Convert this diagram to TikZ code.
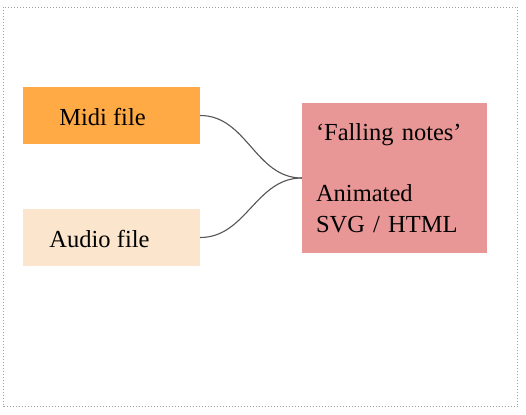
\documentclass[tikz,border=0pt]{standalone}
\usepackage{fontspec}
\setmainfont{Liberation Serif}
\usepackage{xcolor}
\usepackage{tikz}
\usetikzlibrary{positioning}
\definecolor{MidiOrange}{HTML}{FFAA44}
\definecolor{AudioPeach}{HTML}{FBE5CC}
\definecolor{OutPink}{HTML}{E89696}
\definecolor{LinkGray}{HTML}{555555}

\begin{document}
\begin{tikzpicture}[x=1pt, y=-1pt,
    every node/.style={font=\fontsize{24.5}{30.5}\selectfont, text=black},
    srcbox/.style={minimum width=177pt, minimum height=57pt, inner sep=0pt},
    lbl/.style={anchor=base, inner sep=0pt},
    link/.style={draw=LinkGray, line width=1.1pt, out=0, in=180}]
  \useasboundingbox (0,0) rectangle (526,414);
  \draw[gray!75, line width=1pt, dash pattern=on 1pt off 2pt] (3.5,7.5) rectangle (517.5,406.5);

  % inputs
  \node[srcbox, fill=MidiOrange] (midi) at (111.5,115.5) {};
  \node[lbl] (midilbl) at (102.5,125) {Midi file};
  \node[srcbox, fill=AudioPeach] (audio) at (111.5,237.5) {};
  \node[lbl] (audiolbl) at (99.5,247) {Audio file};

  % output
  \node[fill=OutPink, minimum width=185pt, minimum height=150pt,
        text width=157pt, inner xsep=14pt, align=left] (falling) at (394.5,178)
    {‘Falling notes’\\[30.5pt]Animated\\SVG / HTML};

  \draw[link] (midi.east) to (falling.west);
  \draw[link] (audio.east) to (falling.west);
\end{tikzpicture}
\end{document}
